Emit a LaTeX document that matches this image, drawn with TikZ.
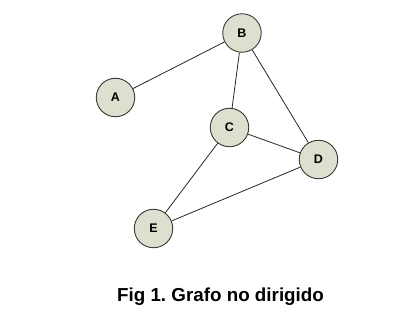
\documentclass[tikz,border=0pt]{standalone}
\usepackage{fontspec}
\setmainfont{Liberation Sans}
\definecolor{nodefill}{HTML}{DEDFCE}
\definecolor{nodeline}{HTML}{3A3A3A}
\begin{document}
\begin{tikzpicture}[x=1pt,y=1pt,
  vertex/.style={circle, draw=nodeline, fill=nodefill, line width=0.9pt,
    minimum size=38.5pt, inner sep=0pt, font=\bfseries\fontsize{12.5}{14}\selectfont},
  edge/.style={draw=black!85, line width=0.8pt}]
  \useasboundingbox (0,0) rectangle (405,322);
  % vertices
  \node[vertex] (A) at (115.5,224.5) {A};
  \node[vertex] (B) at (242,289) {B};
  \node[vertex] (C) at (229.5,194.5) {C};
  \node[vertex] (D) at (318.5,162.5) {D};
  \node[vertex] (E) at (153.5,93.5) {E};
  % edges
  \draw[edge] (A) -- (B);
  \draw[edge] (B) -- (C);
  \draw[edge] (B) -- (D);
  \draw[edge] (C) -- (D);
  \draw[edge] (C) -- (E);
  \draw[edge] (E) -- (D);
  % caption
  \node[font=\bfseries\fontsize{18.8}{22}\selectfont] (cap) at (220.5,25) {Fig 1.\ Grafo no dirigido};
\end{tikzpicture}
\end{document}
